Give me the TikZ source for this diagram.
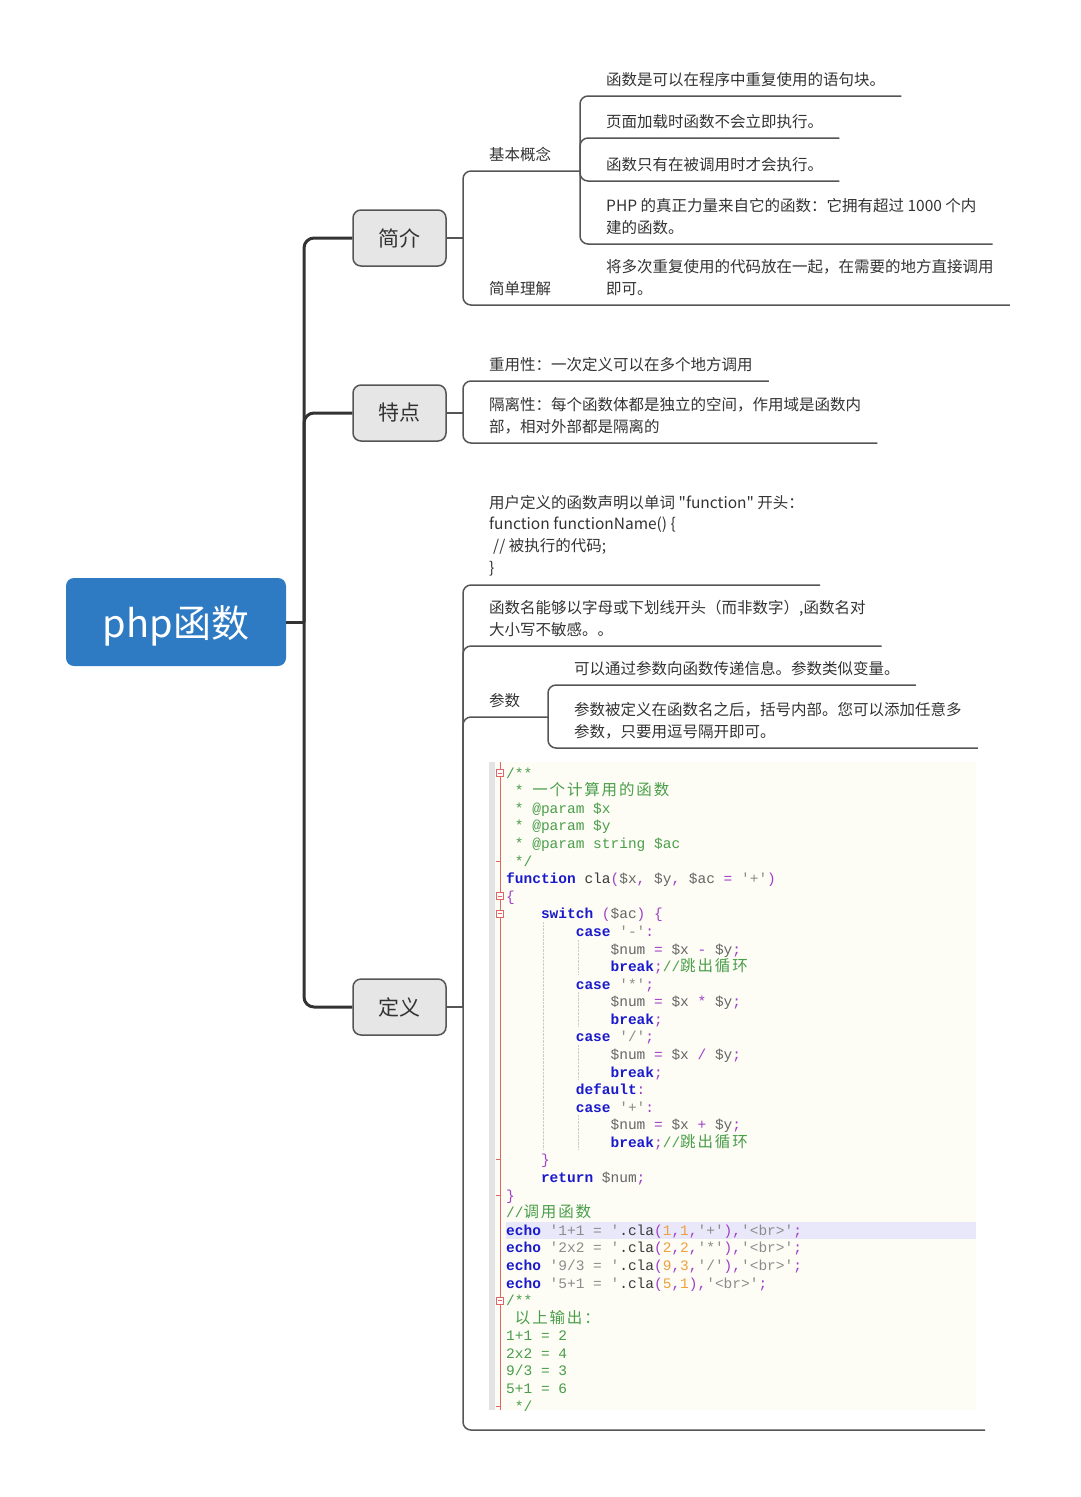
\documentclass[tikz,border=0pt]{standalone}
\usepackage{fontspec}
\newfontfamily\cjk{Noto Sans CJK SC}
\newfontfamily\cjkcod{Noto Sans CJK SC}[LetterSpace=12]
\setmonofont{Liberation Mono}

\definecolor{azulraiz}{HTML}{2E7BC4}
\definecolor{grisrama}{HTML}{E6E6E6}
\definecolor{bordegris}{HTML}{555555}
\definecolor{oscuro}{HTML}{333333}
\definecolor{lineas}{HTML}{555555}
\definecolor{texto}{HTML}{333333}
\definecolor{fondocod}{HTML}{FDFCF5}
\definecolor{margencod}{HTML}{E3E3E3}
\definecolor{rojocod}{HTML}{E06666}
\definecolor{resalte}{HTML}{E8E8FA}
\definecolor{azulcod}{HTML}{1A1ACC}
\definecolor{verdecod}{HTML}{4A9E4A}
\definecolor{grisvar}{HTML}{666666}
\definecolor{moradocod}{HTML}{A040C8}
\definecolor{naranjacod}{HTML}{F0A040}
\definecolor{griscad}{HTML}{8C8C8C}
\definecolor{codoscuro}{HTML}{3A3A3A}

% colores del resaltado de sintaxis
\newcommand\ckw[1]{\textcolor{azulcod}{\textbf{#1}}}
\newcommand\ccm[1]{\textcolor{verdecod}{#1}}
\newcommand\cva[1]{\textcolor{grisvar}{#1}}
\newcommand\cop[1]{\textcolor{moradocod}{#1}}
\newcommand\ccad[1]{\textcolor{griscad}{#1}}
\newcommand\cnm[1]{\textcolor{naranjacod}{#1}}
\newcommand\czh[1]{{\cjkcod\fontsize{15.5}{17.58}\selectfont #1}}
\newcommand\csang[1]{\hspace*{#1\dimexpr 8.7pt\relax}}

\begin{document}
\begin{tikzpicture}[x=1pt, y=-1pt,
    raiz/.style={fill=azulraiz, rounded corners=8pt, minimum width=220pt, minimum height=88pt, text depth=0pt, text=white, font=\cjk\fontsize{38}{44}\selectfont},
    rama/.style={fill=grisrama, draw=bordegris, line width=1.5pt, rounded corners=8pt, minimum width=93pt, minimum height=56pt, text=texto, font=\cjk\fontsize{21}{25}\selectfont},
    hoja/.style={anchor=south west, align=left, inner xsep=16pt, inner ysep=9pt, text=texto, font=\cjk\fontsize{15.5}{21.7}\selectfont},
    linea/.style={draw=lineas, line width=1.5pt, rounded corners=8pt},
    tronco/.style={draw=oscuro, line width=3pt, rounded corners=10pt},
    codigo/.style={anchor=north west, align=left, inner sep=0pt, text=codoscuro, font=\ttfamily\fontsize{14.5}{17.58}\selectfont}]

    \useasboundingbox (0,0) rectangle (1080,1497);

    % 1. Nodo central y las tres ramas
    \node[raiz] (php) at (176,622) {php函数};
    \node[rama] (intro) at (399.5,238) {简介};
    \node[rama] (rasgos) at (399.5,413) {特点};
    \node[rama] (def) at (399.5,1007) {定义};

    \coordinate (c0) at (304,622);
    \draw[tronco] (php.east) -- (c0);
    \foreach \r in {intro, rasgos, def}
        \draw[tronco] (c0) |- (\r.west);

    % 2. Rama "简介"
    \coordinate (b1) at (463,238);
    \coordinate (b11) at (580,171);
    \draw[linea] (intro.east) -- (b1);
    \node[hoja] (concepto) at (473,171) {基本概念};
    \node[hoja] (k1) at (590,96) {函数是可以在程序中重复使用的语句块。};
    \node[hoja] (k2) at (590,138) {页面加载时函数不会立即执行。};
    \node[hoja] (k3) at (590,181) {函数只有在被调用时才会执行。};
    \node[hoja] (k4) at (590,244) {PHP 的真正力量来自它的函数：它拥有超过 1000 个内\\建的函数。};
    \node[hoja] (simple) at (473,305) {简单理解};
    \node[hoja] (s1) at (590,305) {将多次重复使用的代码放在一起，在需要的地方直接调用\\即可。};
    \draw[linea] (b1) |- (b11);
    \foreach \k in {k1,k2,k3,k4}
        \draw[linea] (b11) |- (\k.south east);
    \draw[linea] (b1) |- (s1.south east);

    % 3. Rama "特点"
    \coordinate (b2) at (463,413);
    \draw[linea] (rasgos.east) -- (b2);
    \node[hoja] (t1) at (473,381) {重用性：一次定义可以在多个地方调用};
    \node[hoja] (t2) at (473,443) {隔离性：每个函数体都是独立的空间，作用域是函数内\\部，相对外部都是隔离的};
    \foreach \t in {t1,t2}
        \draw[linea] (b2) |- (\t.south east);

    % 4. Rama "定义"
    \coordinate (b3) at (463,1007);
    \coordinate (b31) at (548,717);
    \coordinate (fincod) at (985,1430);
    \draw[linea] (def.east) -- (b3);
    \node[hoja] (d1) at (473,585) {用户定义的函数声明以单词 "function" 开头：\\function functionName() \{\\\hspace*{4pt}// 被执行的代码;\\\}};
    \node[hoja] (d2) at (473,646) {函数名能够以字母或下划线开头（而非数字）,函数名对\\大小写不敏感。。};
    \node[hoja] (param) at (473,717) {参数};
    \node[hoja] (p1) at (558,685) {可以通过参数向函数传递信息。参数类似变量。};
    \node[hoja] (p2) at (558,748) {参数被定义在函数名之后，括号内部。您可以添加任意多\\参数，只要用逗号隔开即可。};
    \foreach \d in {d1,d2}
        \draw[linea] (b3) |- (\d.south east);
    \draw[linea] (b3) |- (b31);
    \draw[linea] (b3) |- (fincod);
    \foreach \p in {p1,p2}
        \draw[linea] (b31) |- (\p.south east);

    % 5. Captura del editor con el ejemplo
    \begin{scope}
        \clip (489,762) rectangle (976,1410);
        \fill[fondocod] (489,762) rectangle (976,1410);
        \fill[margencod] (489,762) rectangle (495,1410);
        \fill[resalte] (506,1221.5) rectangle (976,1239);
        \draw[rojocod, line width=1pt] (500.5,762) -- (500.5,1410);

        % guias de sangria
        \draw[gray!40, densely dotted] (543,922) -- (543,1150);
        \foreach \a/\b in {940/974, 992/1027, 1045/1080, 1115/1150}
            \draw[gray!40, densely dotted] (578,\a) -- (578,\b);

        % marcas de plegado
        \foreach \y in {773, 896, 913.6, 1300.4} {
            \draw[rojocod, fill=white, line width=0.8pt] (496.5,\y-3.5) rectangle ++(7,7);
            \draw[rojocod, line width=0.8pt] (498,\y) -- (502,\y);
        }
        \foreach \y in {860.9, 1159.8, 1195, 1406}
            \draw[rojocod, line width=0.8pt] (496,\y) -- (500.5,\y);

        \node[codigo] (cod) at (506,766) {\rule{0pt}{12pt}\ccm{/**}\\
\ccm{~*~\czh{一个计算用的函数}}\\
\ccm{~*~@param~\$x}\\
\ccm{~*~@param~\$y}\\
\ccm{~*~@param string~\$ac}\\
\ccm{~*/}\\
\ckw{function} cla\cop{(}\cva{\$x}\cop{,} \cva{\$y}\cop{,} \cva{\$ac} \cop{=} \ccad{'+'}\cop{)}\\
\cop{\{}\\
\csang{4}\ckw{switch} \cop{(}\cva{\$ac}\cop{)} \cop{\{}\\
\csang{8}\ckw{case} \ccad{'-'}\cop{:}\\
\csang{12}\cva{\$num} \cop{=} \cva{\$x} \cop{-} \cva{\$y}\cop{;}\\
\csang{12}\ckw{break}\cop{;}\ccm{//\czh{跳出循环}}\\
\csang{8}\ckw{case} \ccad{'*'}\cop{;}\\
\csang{12}\cva{\$num} \cop{=} \cva{\$x} \cop{*} \cva{\$y}\cop{;}\\
\csang{12}\ckw{break}\cop{;}\\
\csang{8}\ckw{case} \ccad{'/'}\cop{;}\\
\csang{12}\cva{\$num} \cop{=} \cva{\$x} \cop{/} \cva{\$y}\cop{;}\\
\csang{12}\ckw{break}\cop{;}\\
\csang{8}\ckw{default}\cop{:}\\
\csang{8}\ckw{case} \ccad{'+'}\cop{:}\\
\csang{12}\cva{\$num} \cop{=} \cva{\$x} \cop{+} \cva{\$y}\cop{;}\\
\csang{12}\ckw{break}\cop{;}\ccm{//\czh{跳出循环}}\\
\csang{4}\cop{\}}\\
\csang{4}\ckw{return} \cva{\$num}\cop{;}\\
\cop{\}}\\
\ccm{//\czh{调用函数}}\\
\ckw{echo} \ccad{'1+1 = '}.cla\cop{(}\cnm{1}\cop{,}\cnm{1}\cop{,}\ccad{'+'}\cop{),}\ccad{'<br>'}\cop{;}\\
\ckw{echo} \ccad{'2x2 = '}.cla\cop{(}\cnm{2}\cop{,}\cnm{2}\cop{,}\ccad{'*'}\cop{),}\ccad{'<br>'}\cop{;}\\
\ckw{echo} \ccad{'9/3 = '}.cla\cop{(}\cnm{9}\cop{,}\cnm{3}\cop{,}\ccad{'/'}\cop{),}\ccad{'<br>'}\cop{;}\\
\ckw{echo} \ccad{'5+1 = '}.cla\cop{(}\cnm{5}\cop{,}\cnm{1}\cop{),}\ccad{'<br>'}\cop{;}\\
\ccm{/**}\\
\ccm{~\czh{以上输出：}}\\
\ccm{1+1 = 2}\\
\ccm{2x2 = 4}\\
\ccm{9/3 = 3}\\
\ccm{5+1 = 6}\\
\ccm{~*/}};
    \end{scope}

\end{tikzpicture}
\end{document}
